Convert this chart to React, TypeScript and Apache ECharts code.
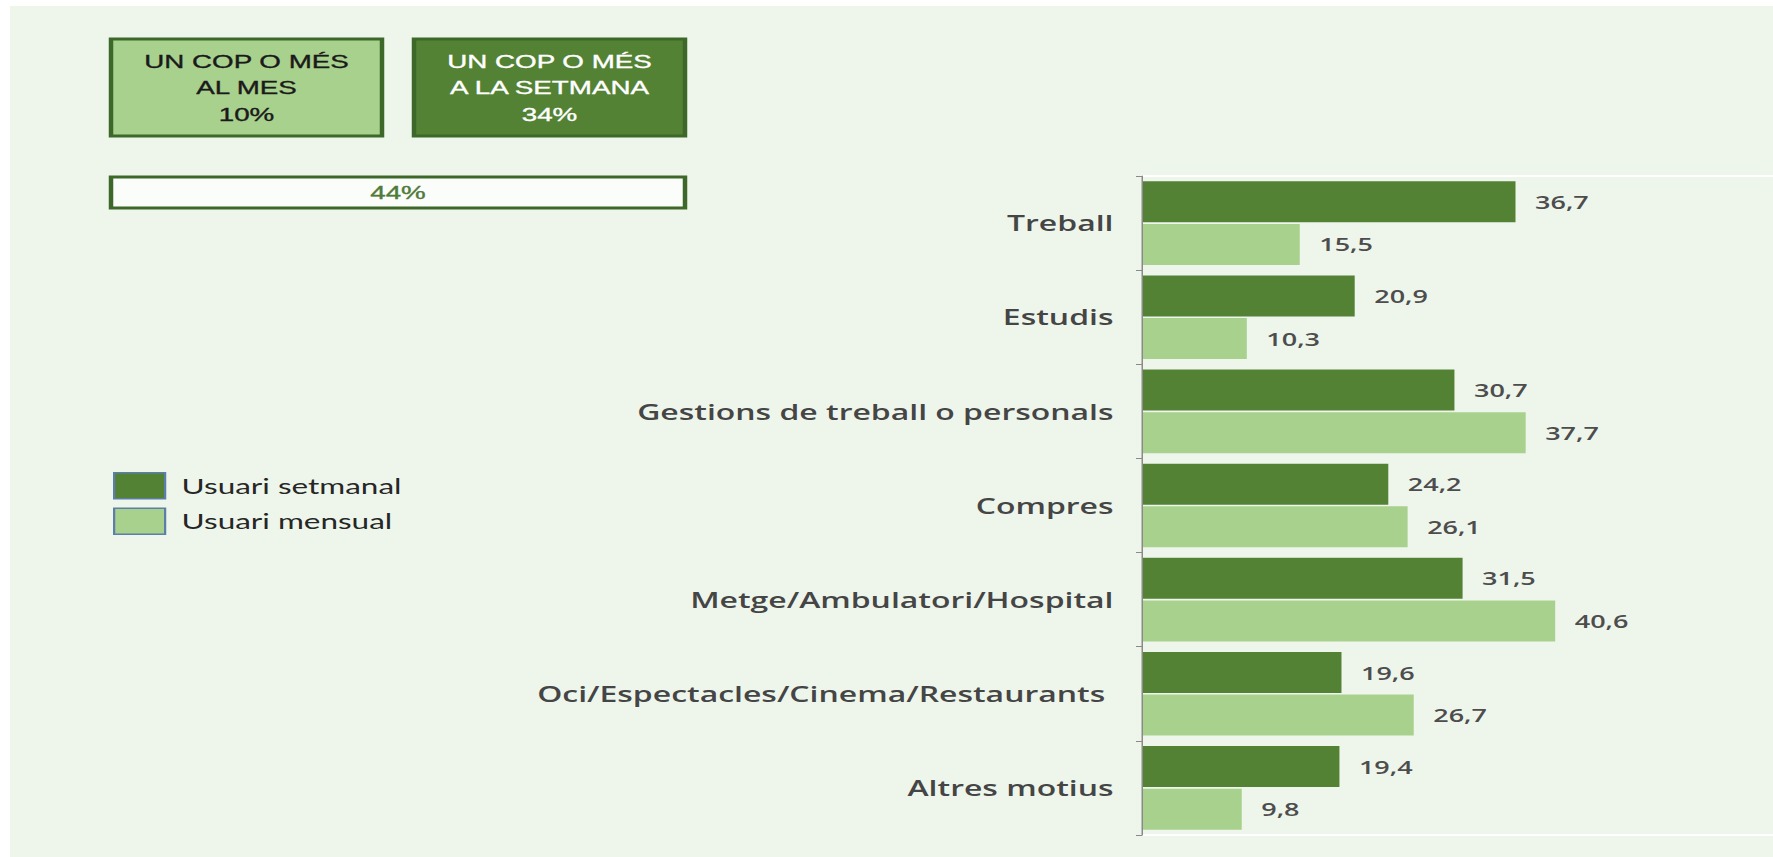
import React, { useEffect, useRef } from "react";
import * as echarts from "echarts";

// ---- data ----
const categories = [
  "Treball",
  "Estudis",
  "Gestions de treball o personals",
  "Compres",
  "Metge/Ambulatori/Hospital",
  "Oci/Espectacles/Cinema/Restaurants ",
  "Altres motius",
];
const weeklyValues = [36.7, 20.9, 30.7, 24.2, 31.5, 19.6, 19.4];
const monthlyValues = [15.5, 10.3, 37.7, 26.1, 40.6, 26.7, 9.8];
const seriesNames = ["Usuari setmanal", "Usuari mensual"];
const monthlyBoxLines = ["UN COP O MÉS", "AL MES", "10%"];
const weeklyBoxLines = ["UN COP O MÉS", "A LA SETMANA", "34%"];
const totalShareLabel = "44%";

// ---- layout (the reference is horizontally stretched) ----
const S = 1.5;
const W = 1773;
const H = 857;
const IW = W / S;
const px = (v: number) => v / S;

const DARK = "#548235";
const LIGHT = "#A9D18E";
const BORDER = "#3d6829";

const fmt = (v: number) => v.toFixed(1).replace(".", ",");

export default function App() {
  const ref = useRef<HTMLDivElement>(null);
  useEffect(() => {
    if (!ref.current) return;
    const chart = echarts.init(ref.current, undefined, { renderer: "svg" });
    const labelStyle = {
      show: true,
      position: "right" as const,
      distance: 13,
      formatter: (p: any) => fmt(p.value),
      fontFamily: "Open Sans",
      fontWeight: 600,
      fontSize: 18,
      color: "#4d4d4d",
    };
    const boxText = (lines: string[], cx: number, cy: number, color: string) => ({
      type: "text",
      x: cx,
      y: cy,
      style: {
        text: lines.join("\n"),
        x: 0,
        y: 0,
        align: "center",
        verticalAlign: "middle",
        fontFamily: "Liberation Sans",
        fontSize: 18.5,
        lineHeight: 26.5,
        fill: color,
        stroke: color,
        lineWidth: 0.35,
      },
    });
    chart.setOption({
      animation: false,
      backgroundColor: "#EEF6EC",
      grid: { left: px(1142), right: 0, top: 176, bottom: H - 835, containLabel: false },
      legend: {
        data: seriesNames,
        orient: "vertical",
        left: px(113),
        top: 472,
        itemWidth: px(51),
        itemHeight: 26,
        itemGap: 8,
        icon: "rect",
        padding: 0,
        itemStyle: { borderColor: "#5b7fa8", borderWidth: 1.5 },
        textStyle: {
          fontFamily: "Lato",
          fontSize: 21,
          color: "#262626",
          padding: [0, 0, 0, 6],
        },
      },
      xAxis: [
        {
          type: "value",
          min: 0,
          max: 62,
          position: "bottom",
          axisLine: { show: true, lineStyle: { color: "#ffffff", width: 2 } },
          axisTick: { show: false },
          axisLabel: { show: false },
          splitLine: { show: false },
        },
        {
          type: "value",
          min: 0,
          max: 62,
          position: "top",
          axisLine: { show: true, lineStyle: { color: "#ffffff", width: 2 } },
          axisTick: { show: false },
          axisLabel: { show: false },
          splitLine: { show: false },
        },
      ],
      yAxis: {
        type: "category",
        inverse: true,
        data: categories,
        z: 5,
        axisLine: { show: true, lineStyle: { color: "#8a8a8a", width: 1 } },
        axisTick: { show: true, length: 4, lineStyle: { color: "#8a8a8a" } },
        axisLabel: {
          margin: 19,
          fontFamily: "Open Sans",
          fontWeight: 600,
          fontSize: 21.3,
          color: "#454545",
        },
      },
      series: [
        {
          name: seriesNames[0],
          type: "bar",
          data: weeklyValues,
          barWidth: 41,
          barGap: "4%",
          itemStyle: { color: DARK },
          label: labelStyle,
        },
        {
          name: seriesNames[1],
          type: "bar",
          data: monthlyValues,
          barWidth: 41,
          barGap: "4%",
          itemStyle: { color: LIGHT },
          label: labelStyle,
        },
      ],
      graphic: [
        { type: "rect", shape: { x: 0, y: 0, width: IW, height: 6 }, style: { fill: "#ffffff" }, silent: true },
        { type: "rect", shape: { x: 0, y: 0, width: px(10), height: H }, style: { fill: "#ffffff" }, silent: true },
        {
          type: "rect",
          shape: { x: px(111), y: 39, width: px(271), height: 97 },
          style: { fill: LIGHT, stroke: BORDER, lineWidth: 3 },
        },
        boxText(monthlyBoxLines, px(111 + 271 / 2), 88, "#1a1a1a"),
        {
          type: "rect",
          shape: { x: px(414), y: 39, width: px(271), height: 97 },
          style: { fill: DARK, stroke: BORDER, lineWidth: 3 },
        },
        boxText(weeklyBoxLines, px(414 + 271 / 2), 88, "#ffffff"),
        {
          type: "rect",
          shape: { x: px(111), y: 177, width: px(574), height: 31 },
          style: { fill: "#fbfdfa", stroke: BORDER, lineWidth: 3 },
        },
        boxText([totalShareLabel], px(111 + 574 / 2), 193, "#4f7a3a"),
      ],
    });
    return () => chart.dispose();
  }, []);
  return (
    <div
      ref={ref}
      style={{
        position: "absolute",
        left: 0,
        top: 0,
        width: IW,
        height: H,
        transform: `scaleX(${S})`,
        transformOrigin: "0 0",
      }}
    />
  );
}
